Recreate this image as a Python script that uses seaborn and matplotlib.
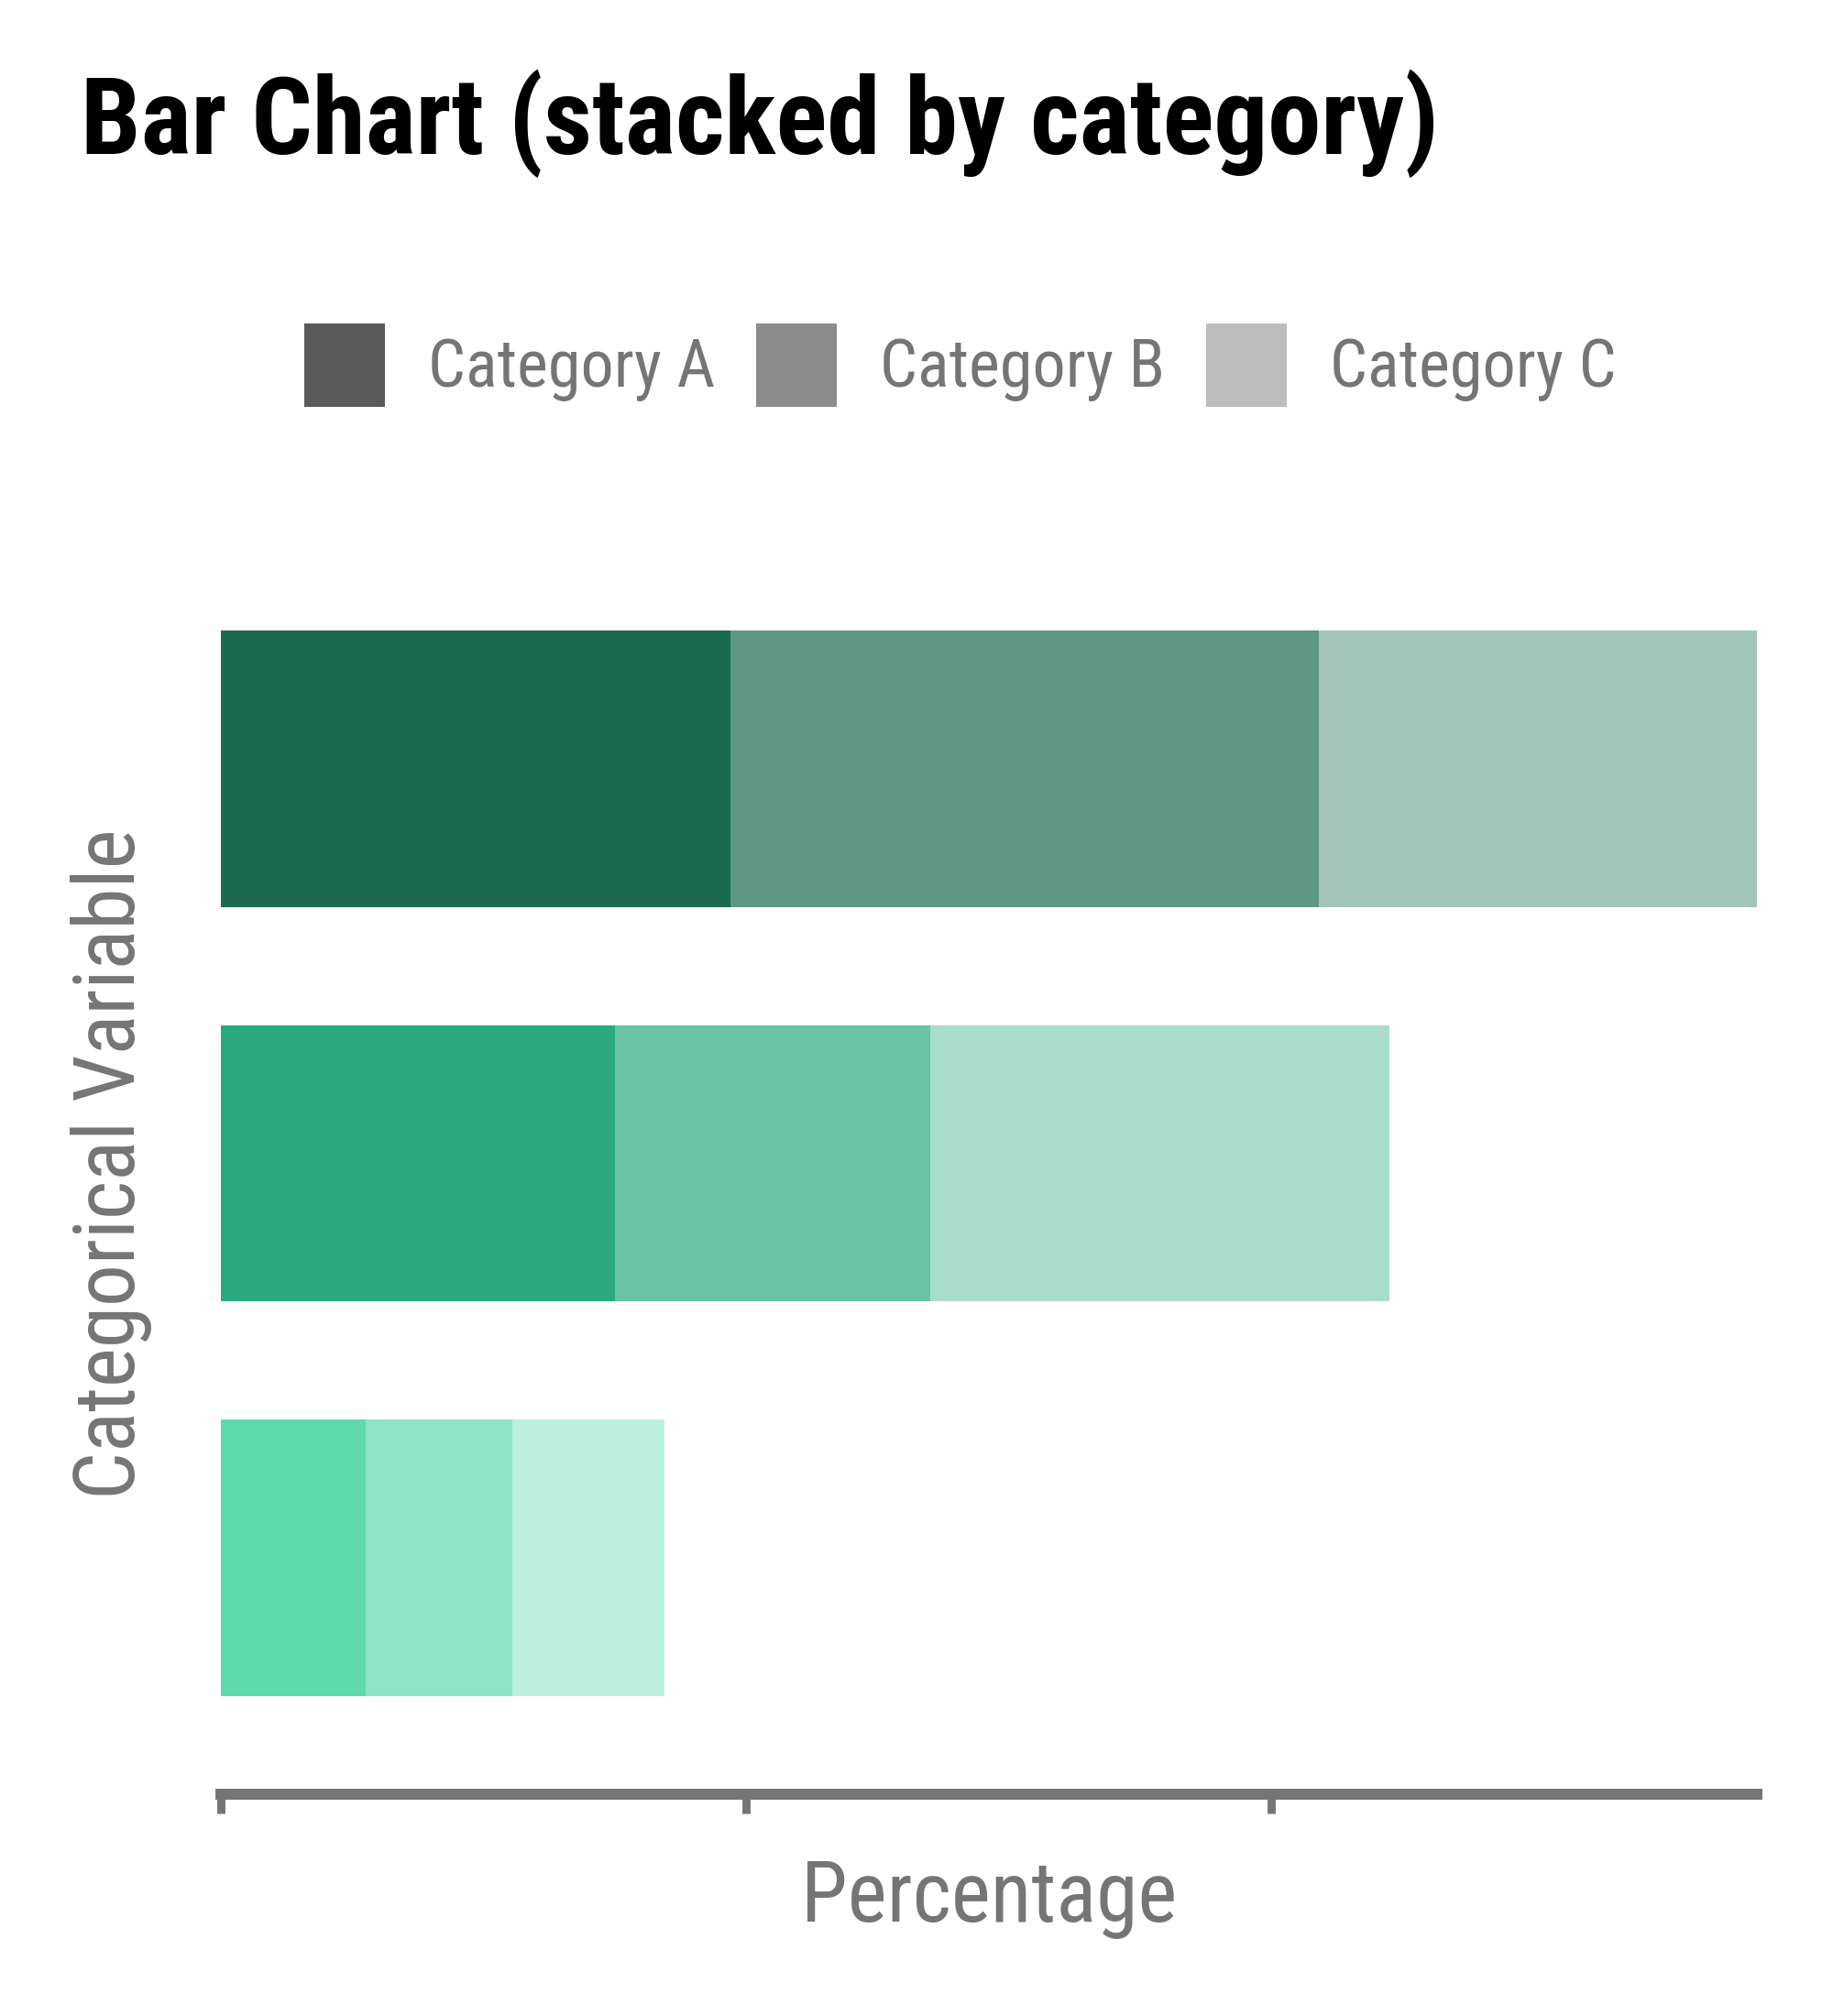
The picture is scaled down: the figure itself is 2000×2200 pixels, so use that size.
import numpy as np
import pandas as pd
import matplotlib
matplotlib.use('Agg')
import matplotlib.pyplot as plt
from matplotlib import font_manager as fm
from matplotlib.patches import Patch
from matplotlib.colors import to_rgb
import seaborn as sns

# data (no tick labels on the chart, so group names are placeholders)
groups = ['Group 1', 'Group 2', 'Group 3']
categories = ['Category A', 'Category B', 'Category C']
cat_a = [19.4, 15.0, 5.5]
cat_b = [22.4, 12.0, 5.6]
cat_c = [16.7, 17.5, 5.8]
xticks = [0, 20, 40]

base_colors = ['#1a6b50', '#29a97d', '#5dd9ae']   # one shade per row
legend_gray = '#5a5a5a'
alphas = [1.0, 0.7, 0.4]                            # A, B, C
text_gray = '#757575'


def fade(color, a):
    # same as alpha over white, but opaque so stacked layers don't mix
    rgb = np.array(to_rgb(color))
    return tuple(rgb * a + (1 - a))


def weight_of(f):
    w = f.weight
    if isinstance(w, str):
        w = fm.weight_dict.get(w, 400)
    return int(w)


def pick_condensed():
    # look for any installed condensed / narrow face, regular + bold
    cands = []
    for f in fm.fontManager.ttflist:
        low = f.fname.lower()
        if not ('condensed' in low or 'narrow' in low):
            continue
        if any(s in low for s in ('semicondensed', 'extracondensed', 'ultracondensed', 'italic', 'oblique')):
            continue
        if f.style != 'normal':
            continue
        cands.append(f)
    if not cands:
        return None, None
    pref = ['noto', 'open', 'roboto', 'dejavu', 'liberation']

    def rank(f):
        low = f.fname.lower()
        for i, p in enumerate(pref):
            if p in low:
                return i
        return len(pref)
    fams = sorted({f.fname.rsplit('/', 1)[0] + '|' + f.name for f in cands},
                  key=lambda k: rank(next(f for f in cands if f.name == k.split('|')[1])))
    for key in fams:
        same = [f for f in cands if f.name == key.split('|')[1]]
        reg = min(same, key=lambda f: abs(weight_of(f) - 400))
        bold = min(same, key=lambda f: abs(weight_of(f) - 800))
        if weight_of(bold) >= 600:
            return reg.fname, bold.fname
    return None, None


sns.set_style('white')
plt.rcParams['font.family'] = ['DejaVu Sans']

reg_file, bold_file = pick_condensed()
if reg_file:
    reg = fm.FontProperties(fname=reg_file)
    bold = fm.FontProperties(fname=bold_file)
    sizes = dict(title=42.1, legend=26, label=33)
else:
    reg = fm.FontProperties(family='DejaVu Sans')
    bold = fm.FontProperties(family='DejaVu Sans', weight='bold')
    sizes = dict(title=33, legend=22, label=27)

df = pd.DataFrame({'group': groups, 'A': cat_a, 'B': cat_b, 'C': cat_c})
df['AB'] = df['A'] + df['B']
df['ABC'] = df['AB'] + df['C']

fig = plt.figure(figsize=(10, 11))
ax = fig.add_axes([0.1207, 0.10986, 0.8377, 0.6262])

# draw the cumulative totals from the back, each layer hides the one behind it
for col, a in [('ABC', alphas[2]), ('AB', alphas[1]), ('A', alphas[0])]:
    sns.barplot(data=df, x=col, y='group', hue='group', order=groups,
                palette=[fade(c, a) for c in base_colors], saturation=1,
                width=0.7, errorbar=None, legend=False, linewidth=0, ax=ax)

ax.set_xlim(0, df['ABC'].max())
ax.set_ylim(2.6, -0.6)
ax.set_xticks(xticks)
ax.set_xticklabels([])
ax.set_yticks([])
ax.set_xlabel('')
ax.set_ylabel('')

for s in ['left', 'top', 'right']:
    ax.spines[s].set_visible(False)
ax.spines['bottom'].set_linewidth(4.3)
ax.spines['bottom'].set_color(text_gray)
ax.tick_params(axis='x', direction='out', length=7.6, width=3.2, color=text_gray, bottom=True)

# legend in gray, same alpha steps as the bars
handles = [Patch(facecolor=fade(legend_gray, a), edgecolor='none') for a in alphas]
leg_prop = reg.copy()
leg_prop.set_size(sizes['legend'])
fig.legend(handles, categories, loc='center', bbox_to_anchor=(0.524, 0.819), ncol=3,
           frameon=False, prop=leg_prop, handlelength=1.22, handleheight=1.56,
           handletextpad=0.65, columnspacing=0.62, labelcolor=text_gray)

fig.text(0.044, 1 - 168 / 2200, 'Bar Chart (stacked by category)', fontproperties=bold,
         fontsize=sizes['title'], ha='left', va='baseline', color='black')
fig.text(0.5395, 1 - 2097 / 2200, 'Percentage', fontproperties=reg,
         fontsize=sizes['label'], ha='center', va='baseline', color=text_gray)
fig.text(0.0608, 0.4227, 'Categorical Variable', fontproperties=reg,
         fontsize=sizes['label'], rotation=90, ha='center', va='center', color=text_gray)

fig.savefig('out.png', dpi=200)
